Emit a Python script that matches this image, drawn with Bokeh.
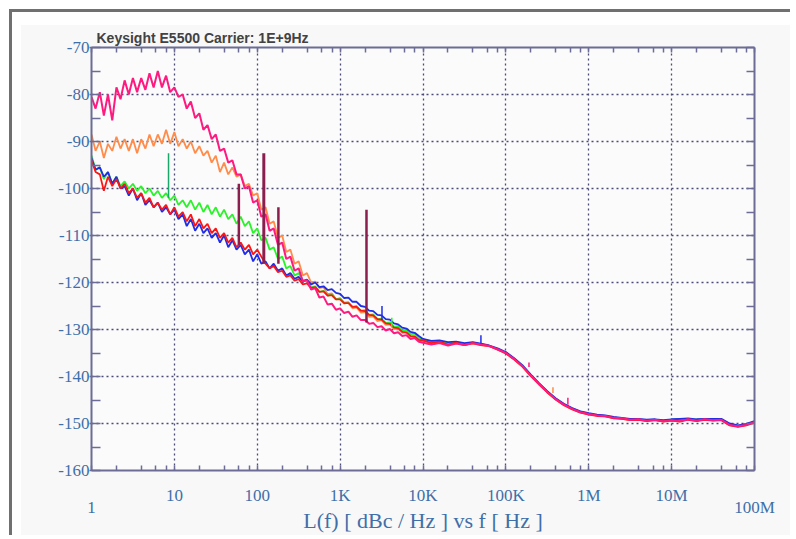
from bokeh.plotting import figure
from bokeh.models import FixedTicker, LogAxis, LinearAxis, Range1d
from bokeh.embed import file_html
from bokeh.resources import INLINE

TITLE = "Keysight E5500 Carrier: 1E+9Hz"
X_TITLE = "L(f) [ dBc / Hz ] vs f [ Hz ]"
X_TICKS = [1, 10, 100, 1000, 10000, 100000, 1000000, 10000000, 100000000]
X_TICK_LABELS = ["1", "10", "100", "1K", "10K", "100K", "1M", "10M", "100M"]
Y_TICKS = [-160, -150, -140, -130, -120, -110, -100, -90, -80, -70]
Y_TICK_LABELS = ["-160", "-150", "-140", "-130", "-120", "-110", "-100", "-90", "-80", "-70"]

# offset frequencies, 1 Hz .. 10 kHz
F_LF = [1, 1.12, 1.26, 1.41, 1.58, 1.78, 2, 2.24, 2.51, 2.82, 3.16, 3.55, 3.98, 4.47, 5.01, 5.62, 6.31, 7.08, 7.94, 8.91,
        10, 11.2, 12.6, 14.1, 15.8, 17.8, 20, 22.4, 25.1, 28.2, 31.6, 35.5, 39.8, 44.7, 50.1, 56.2, 63.1, 70.8, 79.4, 89.1,
        100, 112, 126, 141, 158, 178, 200, 224, 251, 282, 316, 355, 398, 447, 501, 562, 631, 708, 794, 891,
        1000, 1120, 1260, 1410, 1580, 1780, 2000, 2240, 2510, 2820, 3160, 3550, 3980, 4470, 5010, 5620, 6310, 7080, 7940, 8910]
# offset frequencies, 10 kHz .. 100 MHz
F_HF = [10000, 12600, 15800, 20000, 25100, 31600, 39800, 50100, 63100, 79400,
        1e5, 1.26e5, 1.58e5, 2e5, 2.51e5, 3.16e5, 3.98e5, 5.01e5, 6.31e5, 7.94e5,
        1e6, 1.26e6, 1.58e6, 2e6, 2.51e6, 3.16e6, 3.98e6, 5.01e6, 6.31e6, 7.94e6,
        1e7, 1.26e7, 1.58e7, 2e7, 2.51e7, 3.16e7, 3.98e7, 5.01e7, 6.31e7, 7.94e7, 1e8]

PINK_LF = [-80.5, -83, -79.5, -84.5, -80, -85.5, -78.5, -81, -77, -80, -76.5, -79.5, -76.5, -79, -75.5, -78.5, -75, -78.5, -76, -79.5,
           -78.5, -80.5, -80, -83, -81.5, -85, -84, -87.5, -86.5, -89.5, -88.5, -92, -91.5, -94.5, -94, -97, -97, -100, -99.5, -103,
           -102.5, -106, -105.5, -109, -108.5, -112, -111.5, -115, -114.5, -117.5, -117, -119.8, -119.5, -121.5, -121.2, -123.2, -123, -124.7, -124.5, -125.8,
           -125.5, -126.5, -126.2, -127.3, -127, -128, -128, -128.8, -128.6, -129.5, -129.3, -130.2, -129.9, -130.8, -130.6, -131.4, -131.2, -132, -131.8, -132.6]
ORANGE_LF = [-88.5, -92, -90, -93.5, -90.5, -92, -89, -91.5, -89.5, -92, -89.5, -92.5, -89.5, -91.5, -88.5, -91, -88.5, -90.5, -87.5, -90.5,
             -88, -91, -89.5, -91.5, -90, -92.5, -91, -93, -92, -94.5, -93, -96.5, -94.5, -97, -95.5, -97.5, -97, -99.5, -99, -101.5,
             -101, -104.5, -104, -107.5, -107, -110.5, -110, -113.5, -113, -116, -115.5, -118.5, -118, -120, -119.8, -121.2, -121, -122.5, -122.3, -123.5,
             -123.5, -124.5, -124.3, -125.5, -125.3, -126.4, -126.3, -127.3, -127.2, -128.2, -128, -129, -128.9, -129.9, -129.8, -130.7, -130.6, -131.5, -131.4, -132.3]
GREEN_LF = [-93, -96, -95.5, -98, -96.5, -99, -97.5, -99.5, -98.5, -100, -99, -100.5, -99.5, -101, -100, -101.5, -100.5, -102, -101, -102.5,
            -101.5, -103.5, -102.5, -104, -102.5, -104.5, -103, -105, -103.5, -105.5, -104, -106, -104.5, -106.5, -105.5, -107.5, -106, -108, -107, -109.5,
            -108.5, -111, -110.5, -113, -112.5, -115, -114.5, -117, -116.5, -118.5, -118, -119.5, -119.5, -121, -120.8, -122, -121.8, -122.8, -122.6, -123.6,
            -123.3, -124.3, -124.2, -125.2, -125, -126, -125.9, -126.9, -126.8, -127.8, -127.7, -128.6, -128.5, -129.4, -129.3, -130.2, -130.1, -131, -130.9, -131.8]
BLUE_LF = [-93.5, -96, -95.5, -97.5, -96.5, -99, -97.5, -100, -99.5, -101.5, -100, -102.5, -101, -103.5, -102.5, -104, -103, -105, -104, -105.5,
           -104.5, -106.5, -105.5, -108, -106.5, -109, -107.5, -109.5, -108.5, -110.5, -109.5, -111.5, -110, -112.5, -111, -113, -112, -114, -113, -115.5,
           -114, -116, -115.5, -117, -116, -117.5, -117, -118.5, -118, -119.2, -118.8, -119.8, -119.4, -120.4, -120, -121, -120.8, -121.6, -121.4, -122.2,
           -122.4, -123.3, -123.2, -124.1, -124.1, -125, -125.2, -126, -126.1, -126.9, -127, -127.8, -127.9, -128.7, -128.9, -129.6, -129.8, -130.5, -130.7, -131.4]
RED_LF = [-94, -96.5, -97, -100.5, -97.5, -99.5, -98, -100, -99, -101, -100, -102, -101, -103, -102, -104, -103, -104.5, -103.5, -105.5,
          -104, -106, -105, -107, -105.5, -108, -106.5, -108.5, -107.5, -109.5, -108.5, -110.5, -109.5, -111.5, -110.5, -112.5, -111.5, -113, -112, -114,
          -113, -114.5, -116, -117, -116.5, -117.8, -117.5, -118.8, -118.5, -119.6, -119.3, -120.4, -120.2, -121.2, -121, -122, -121.9, -122.8, -122.7, -123.6,
          -123.6, -124.4, -124.4, -125.2, -125.2, -126, -126.1, -126.9, -127, -127.8, -127.9, -128.7, -128.8, -129.6, -129.7, -130.5, -130.6, -131.4, -131.5, -132.2]

PINK_HF = [-132.8, -133.2, -132.9, -133.4, -133, -133.3, -132.9, -133.2, -133.5, -134.2,
           -135, -136.3, -137.8, -139.8, -141.6, -143.3, -144.8, -146, -146.9, -147.6,
           -148, -148.3, -148.4, -148.8, -148.9, -149.2, -149.1, -149.4, -149.2, -149.5,
           -149.3, -149.5, -149.1, -149.4, -149.1, -149.3, -149.2, -150.3, -150.6, -150.3, -149.7]
ORANGE_HF = [-132.4, -132.8, -132.7, -133.1, -132.9, -133.3, -133, -133.3, -133.6, -134.2,
             -135, -136.3, -137.8, -139.8, -141.7, -143.3, -144.8, -146, -146.9, -147.6,
             -148, -148.3, -148.5, -148.8, -149, -149.2, -149.2, -149.4, -149.3, -149.5,
             -149.3, -149.4, -149.1, -149.3, -149.2, -149.3, -149.2, -150.2, -150.6, -150.3, -149.7]
GREEN_HF = [-132.2, -132.6, -132.5, -132.9, -132.7, -133.1, -132.8, -133.1, -133.5, -134.1,
            -134.9, -136.2, -137.7, -139.7, -141.5, -143.2, -144.7, -145.9, -146.8, -147.5,
            -147.9, -148.2, -148.4, -148.7, -148.9, -149.1, -149.1, -149.3, -149.2, -149.4,
            -149.2, -149.1, -149, -149.2, -149.1, -149.1, -149.1, -150.1, -150.5, -150.2, -149.6]
BLUE_HF = [-132, -132.4, -132.3, -132.7, -132.6, -132.9, -132.7, -133, -133.4, -134,
           -134.8, -136.1, -137.6, -139.6, -141.4, -143.1, -144.6, -145.8, -146.7, -147.4,
           -147.8, -148.1, -148.3, -148.6, -148.8, -149, -149, -149.2, -149.1, -149.3,
           -149.1, -149, -148.9, -149.1, -149, -149, -149, -150, -150.4, -150.1, -149.5]
RED_HF = [-132.3, -132.9, -132.6, -133.2, -132.8, -133.3, -132.9, -133.3, -133.5, -134.3,
          -135.1, -136.4, -137.9, -139.9, -141.6, -143.4, -144.9, -146.1, -147, -147.7,
          -148.1, -148.4, -148.5, -148.9, -149, -149.3, -149.2, -149.5, -149.3, -149.6,
          -149.4, -149.6, -149.2, -149.5, -149.2, -149.4, -149.3, -150.4, -150.7, -150.4, -149.8]

# discrete spurs
SPUR_F = [8.5, 60, 120, 180, 2080, 3200, 4200, 50000, 190000, 370000, 560000]
SPUR_TOP = [-92.5, -99, -92.5, -104, -104.5, -125, -127.5, -131.2, -137, -142.3, -144.5]
SPUR_BASE = [-102, -112, -116, -116, -128.5, -128, -129.5, -133, -138, -143.5, -146]

PINK = "#ff1a80"
ORANGE = "#ff8c4a"
GREEN = "#2cf22c"
BLUE = "#1f2ee6"
RED = "#ff1414"
MAROON = "#8a1f4e"
SPUR_COLOR = ["#19a86a", MAROON, MAROON, MAROON, MAROON, BLUE, GREEN, BLUE, PINK, ORANGE, PINK]
SPUR_WIDTH = [1.5, 2.5, 3, 2.5, 2.5, 1.5, 1.5, 1.5, 1.5, 1.5, 1.5]

AX = "#6c6c96"
GRID = "#4b4b78"
LAB = "#3f6fa8"
SERIF = "Liberation Serif"

p = figure(width=790, height=535, x_axis_type="log",
           x_range=Range1d(1, 1e8), y_range=Range1d(-160, -70),
           output_backend="svg", toolbar_location=None,
           min_border_left=91, min_border_right=36, min_border_top=47, min_border_bottom=61,
           background_fill_color="#fbfbfb", border_fill_alpha=0, outline_line_color=None)

# page frame: dark rule at top/left and a faint grey panel, drawn behind the canvas
p.styles = {
    "background-color": "white",
    "background-image": ("linear-gradient(#707070, #707070), linear-gradient(#707070, #707070), "
                         "linear-gradient(#f8f8f8, #f8f8f8)"),
    "background-size": "100% 3px, 3px 100%, 100% 100%",
    "background-position": "9px 9px, 9px 9px, 21px 25px",
    "background-repeat": "no-repeat",
}

p.title.text = TITLE
p.title.align = "left"
p.title.offset = 5
p.title.standoff = 4
p.title.text_font = "Liberation Sans"
p.title.text_font_style = "bold"
p.title.text_font_size = "14px"
p.title.text_color = "#424242"

x_minor = [d * m for d in X_TICKS[:-1] for m in (2, 4, 6, 8)]
y_minor = [t + 5 for t in Y_TICKS[:-1]]
xt = FixedTicker(ticks=X_TICKS, minor_ticks=x_minor)
yt = FixedTicker(ticks=Y_TICKS, minor_ticks=y_minor)

xa = p.xaxis[0]
xa.ticker = xt
xa.major_label_overrides = {t: ("" if i in (0, len(X_TICKS) - 1) else lab)
                            for i, (t, lab) in enumerate(zip(X_TICKS, X_TICK_LABELS))}
ya = p.yaxis[0]
ya.ticker = yt
ya.major_label_overrides = {t: lab for t, lab in zip(Y_TICKS, Y_TICK_LABELS)}

# second, label-only bottom axis: staggered end labels + axis title
ends = [X_TICKS[0], X_TICKS[-1]]
x2 = LogAxis(ticker=FixedTicker(ticks=ends, minor_ticks=[]),
             major_label_overrides={X_TICKS[0]: X_TICK_LABELS[0], X_TICKS[-1]: X_TICK_LABELS[-1]})
top = LogAxis(ticker=xt, major_label_overrides={t: "" for t in X_TICKS})
right = LinearAxis(ticker=yt, major_label_overrides={t: "" for t in Y_TICKS})
p.add_layout(x2, "below")
p.add_layout(top, "above")
p.add_layout(right, "right")

for ax in (xa, ya, top, right, x2):
    ax.axis_line_color = AX
    ax.axis_line_width = 2
    ax.major_tick_line_color = AX
    ax.minor_tick_line_color = AX
    ax.major_tick_line_width = 1.5
    ax.minor_tick_line_width = 1.5
    ax.major_label_text_font = SERIF
    ax.major_label_text_font_size = "17px"
    ax.major_label_text_color = LAB
    ax.major_tick_out = 0
    ax.minor_tick_out = 0

xa.major_tick_in = 5
xa.minor_tick_in = 5
xa.major_label_standoff = 15
top.major_tick_in = 5
top.minor_tick_in = 5
top.major_label_standoff = 0
top.major_label_text_font_size = "2px"
ya.major_tick_in = 9
ya.minor_tick_in = 9
ya.major_tick_out = 2
ya.major_label_standoff = 0
right.major_tick_in = 8
right.minor_tick_in = 8
right.major_label_standoff = 0
right.major_label_text_font_size = "2px"

x2.axis_line_color = None
x2.major_tick_line_color = None
x2.minor_tick_line_color = None
x2.major_tick_in = 0
x2.major_label_standoff = -10
x2.axis_label = X_TITLE
x2.axis_label_standoff = -12
x2.axis_label_text_font = SERIF
x2.axis_label_text_font_size = "22px"
x2.axis_label_text_font_style = "normal"
x2.axis_label_text_color = LAB

for g in (p.xgrid[0], p.ygrid[0]):
    g.grid_line_color = GRID
    g.grid_line_dash = "2 3"
    g.grid_line_width = 1.3
p.xgrid[0].ticker = xt
p.ygrid[0].ticker = yt

traces = [(ORANGE_LF + ORANGE_HF, ORANGE, 1.8), (GREEN_LF + GREEN_HF, GREEN, 1.8),
          (BLUE_LF + BLUE_HF, BLUE, 1.8), (RED_LF + RED_HF, RED, 1.8), (PINK_LF + PINK_HF, PINK, 2.0)]
freqs = F_LF + F_HF
for vals, col, w in traces:
    p.line(freqs, vals, line_color=col, line_width=w)

p.segment(x0=SPUR_F, y0=SPUR_BASE, x1=SPUR_F, y1=SPUR_TOP, line_color=SPUR_COLOR, line_width=SPUR_WIDTH)

open("out.html", "w").write(file_html(p, INLINE))
